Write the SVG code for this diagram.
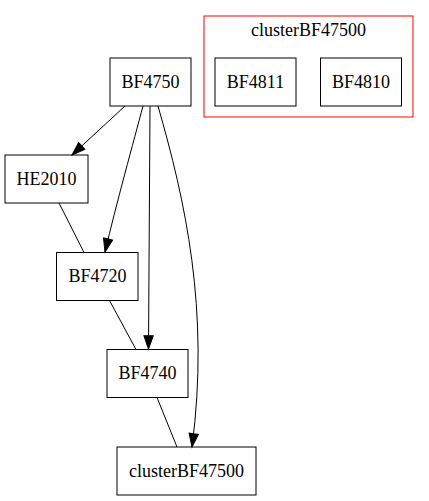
<svg xmlns="http://www.w3.org/2000/svg" width="429" height="501" viewBox="0 0 429 501">
<defs>
<marker id="arr" markerWidth="14" markerHeight="10" refX="13.3" refY="4.65" orient="auto" markerUnits="userSpaceOnUse" overflow="visible">
<polygon points="0,0 13.3,4.65 0,9.3" fill="#000" stroke="#000" stroke-width="1"/>
</marker>
</defs>
<style>
.node rect{fill:#fff;stroke:#000;stroke-width:1}
.edge{fill:none;stroke:#000;stroke-width:1}
</style>
<rect width="429" height="501" fill="#fff"/>
<g font-family="'Liberation Serif', 'Times New Roman', 'DejaVu Serif', serif" font-size="18" text-anchor="middle" fill="#000">
<g id="clusterBF47500_cluster">
<rect x="204" y="16" width="209" height="101" fill="none" stroke="#ff0000" stroke-width="1"/>
<text x="308.5" y="35.5">clusterBF47500</text>
</g>
<g id="BF4750" class="node"><rect x="110" y="58" width="81" height="48"/><text x="150.5" y="87.5">BF4750</text></g>
<g id="BF4811" class="node"><rect x="215" y="58" width="81" height="48"/><text x="255.5" y="87.5">BF4811</text></g>
<g id="BF4810" class="node"><rect x="320.5" y="58" width="81" height="48"/><text x="361" y="87.5">BF4810</text></g>
<g id="HE2010" class="node"><rect x="5" y="155" width="83" height="48"/><text x="46.5" y="184.5">HE2010</text></g>
<g id="BF4720" class="node"><rect x="56.5" y="252.5" width="81.5" height="48"/><text x="97.5" y="282">BF4720</text></g>
<g id="BF4740" class="node"><rect x="107" y="349.5" width="81" height="48"/><text x="147.5" y="379">BF4740</text></g>
<g id="clusterBF47500" class="node"><rect x="117" y="447" width="139" height="48"/><text x="186.5" y="476.5">clusterBF47500</text></g>
</g>
<g id="connectors">
<path class="edge" d="M125,106 L72,155" marker-end="url(#arr)"/>
<path class="edge" d="M143,106 C134,140 116,205 105,252" marker-end="url(#arr)"/>
<path class="edge" d="M150,106 L148.5,349" marker-end="url(#arr)"/>
<path class="edge" d="M158,106 C185,200 210,310 192,447" marker-end="url(#arr)"/>
<path class="edge" d="M59,203 L84,252.5"/>
<path class="edge" d="M109.5,300.5 L136,349.5"/>
<path class="edge" d="M157,397.5 L177,447"/>
</g>
</svg>
